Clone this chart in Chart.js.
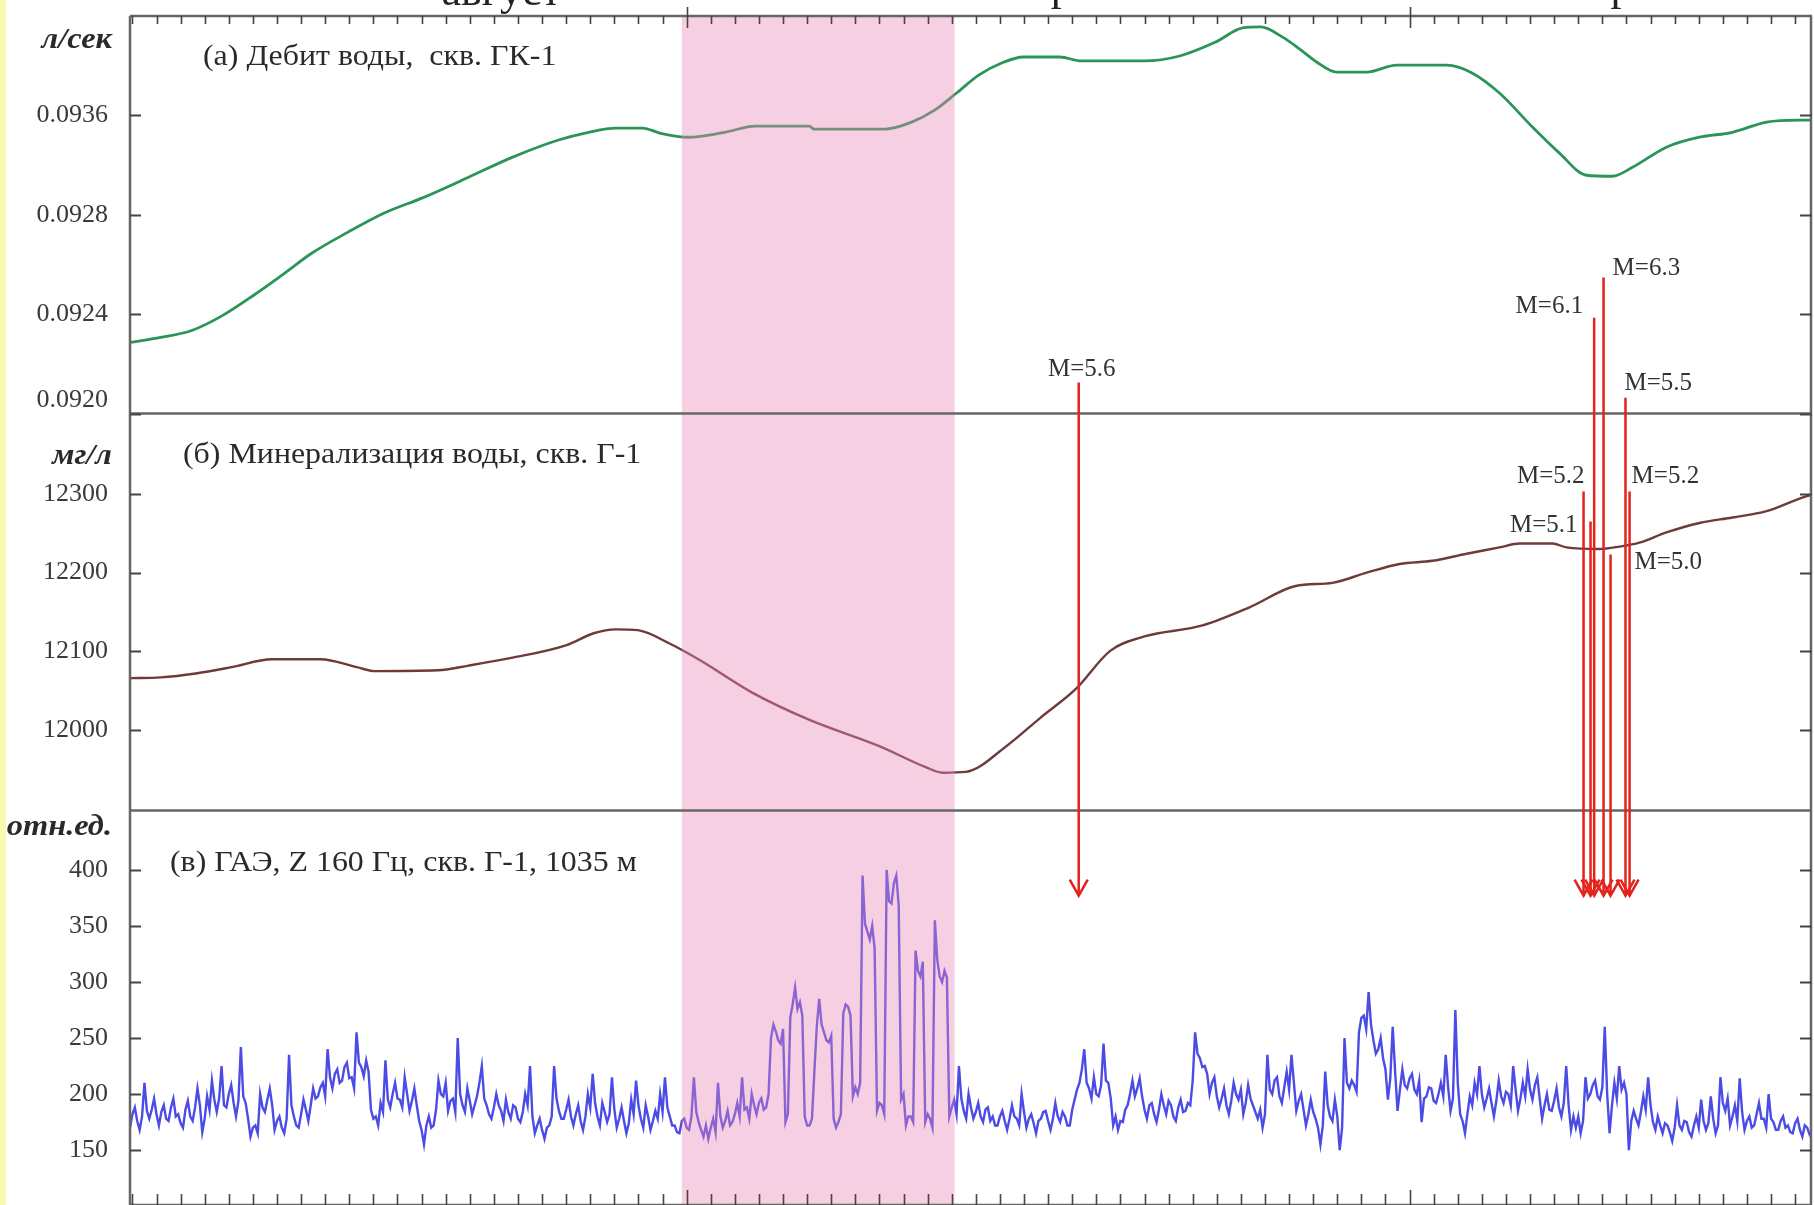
<!DOCTYPE html>
<html><head><meta charset="utf-8">
<script src="https://cdn.jsdelivr.net/npm/chart.js@4.4.1/dist/chart.umd.min.js"></script>
<style>html,body{margin:0;padding:0;background:#fff;overflow:hidden}canvas{display:block}</style>
</head><body>
<canvas id="c" width="1814" height="1205"></canvas>
<script>
// ---------------- data (x in days from 1 September) ----------------
const flowDays = [-23.1,-21.83,-20.54,-19.25,-17.97,-16.64,-15.56,-14.07,-12.57,-10.91,-9.05,-7.22,-5.35,-4.07,-2.95,-1.83,-1.08,0.08,1.58,2.86,5.10,5.27,8.26,9.34,10.29,11.20,12.12,13.07,13.98,15.48,16.39,19.00,20.46,21.95,23.07,23.82,24.73,25.44,26.14,26.97,28.22,29.46,31.54,32.61,33.73,35.10,36.22,37.34,38.42,39.25,40.66,42.03,43.40,44.81,46.18,46.7];
const flowValues = [0.092286,0.092306,0.092334,0.092395,0.092476,0.092568,0.092645,0.092729,0.092806,0.092870,0.092951,0.093032,0.093100,0.093132,0.093149,0.093149,0.093128,0.093112,0.093132,0.093157,0.093157,0.093145,0.093145,0.093173,0.093221,0.093290,0.093362,0.093411,0.093435,0.093435,0.093419,0.093419,0.093439,0.093495,0.093552,0.093556,0.093515,0.093467,0.093415,0.093374,0.093374,0.093402,0.093402,0.093370,0.093290,0.093153,0.093048,0.092959,0.092955,0.092991,0.093072,0.093112,0.093132,0.093173,0.093181,0.093181];

const minDays = [-23.1,-21.83,-20.37,-18.88,-17.22,-15.19,-13.69,-12.95,-10.33,-9.05,-7.22,-4.98,-3.86,-2.95,-2.03,-0.71,0.54,2.70,5.10,7.97,9.92,10.62,11.58,13.28,14.69,16.14,17.59,19.00,21.41,23.36,25.27,26.80,28.22,29.59,30.95,32.37,33.73,34.56,35.93,36.51,37.88,38.71,39.54,40.66,42.03,43.40,44.81,46.18,46.7];
const minValues = [12066,12067,12072,12080,12090,12090,12080,12075,12076,12082,12092,12108,12123,12128,12127,12110,12089,12048,12013,11980,11953,11946,11947,11980,12016,12052,12101,12119,12133,12156,12183,12187,12200,12211,12215,12224,12232,12237,12237,12232,12230,12233,12238,12251,12263,12270,12278,12294,12299];

const gaeStartDay = -23.1;
const gaeStepDays = 0.1;
const gaeValues = [
170,182,188,176,168,180,210,185,178,186,196,182,172,184,190,178,176,188,196,180,
182,174,170,186,194,180,176,188,205,190,166,178,198,186,212,195,184,196,225,190,
188,200,208,192,180,194,242,198,192,178,162,170,172,165,200,188,184,195,205,190,
168,176,180,170,165,178,235,190,180,172,170,182,195,186,176,190,205,196,198,206,
210,198,240,215,205,218,222,210,212,224,228,214,215,205,255,228,224,216,230,220,
186,178,180,172,192,184,230,195,188,200,210,196,195,188,215,200,185,194,205,190,
176,168,155,172,180,170,172,186,212,200,198,210,185,194,196,184,250,200,190,184,
205,194,182,190,198,210,225,196,190,182,178,188,200,190,185,176,195,184,178,190,
188,178,175,184,200,190,225,180,165,172,178,168,160,170,172,180,225,196,185,178,
178,186,195,180,172,182,190,176,168,180,200,188,218,192,180,172,192,184,175,182,
215,186,170,178,188,176,165,174,195,182,212,190,178,170,190,180,168,176,185,178,
200,184,215,188,180,172,172,166,165,176,178,170,168,180,215,184,175,168,162,172,
160,170,178,166,210,180,170,176,185,172,175,182,192,180,215,186,188,178,200,190,
182,192,196,186,188,200,250,262,256,248,245,258,175,182,268,280,295,276,282,270,
180,172,172,178,220,260,285,262,255,248,246,252,178,170,175,182,272,280,278,270,
198,206,200,210,395,352,345,338,350,330,185,192,190,182,400,372,370,388,395,368,
195,200,172,180,180,175,328,310,305,318,175,182,178,170,355,320,305,300,310,304,
180,188,195,182,225,196,185,178,200,188,178,184,192,180,175,186,188,176,180,172,
172,180,185,176,168,178,190,180,178,172,200,184,170,178,182,174,165,176,178,184,
185,176,168,178,192,180,175,184,180,172,172,186,195,204,210,222,240,210,205,196,
215,200,198,208,245,212,210,196,172,180,168,176,175,186,190,200,212,198,205,214,
198,186,178,190,192,182,175,186,200,190,182,194,190,180,176,188,195,184,185,192,
190,212,255,236,232,224,225,218,200,210,215,198,188,196,205,190,182,194,210,200,
195,204,182,192,208,196,190,184,178,186,170,182,235,204,200,212,215,198,192,206,
220,204,235,210,185,194,200,186,172,182,195,184,178,170,155,172,220,190,180,176,
195,180,150,170,250,210,205,212,208,202,255,268,270,258,291,262,248,236,240,250,
232,222,195,214,260,220,185,204,222,208,205,214,218,204,200,212,175,196,198,206,
205,194,192,200,210,198,235,206,185,196,275,210,182,176,165,182,198,190,210,200,
225,200,188,196,205,192,180,194,212,198,192,202,200,190,225,204,185,196,210,198,
222,204,195,208,215,196,178,190,200,186,185,194,205,188,180,192,225,190,168,180,
170,180,165,176,215,196,200,208,212,198,195,206,260,200,165,190,210,196,225,204,
210,200,150,176,185,178,172,184,198,186,215,190,175,168,180,172,165,174,172,166,
158,170,190,172,168,176,175,166,162,172,180,170,195,176,168,174,198,178,165,172,
215,192,185,196,172,180,190,176,214,184,168,176,180,170,172,182,192,178,178,170,
200,178,175,168,168,176,180,170,172,166,165,174,178,168,162,172,170,164,160,166];

// earthquakes
const quakeDays = [16.27, 37.22, 37.51, 37.66, 38.05, 38.34, 38.96, 39.13];
const quakeMags = ['5.6','5.2','5.1','6.1','6.3','5.0','5.5','5.2'];
const quakeTopAxis = ['ya','yb','yb','ya','ya','yb','ya','yb'];
const quakeTopValues = [0.092125, 12303, 12265, 0.092385, 0.092547, 12223, 0.092063, 12303];
const quakeTipValue = 377; // on the acoustic-emission axis

const monthStartDays = [0, 30];
const monthNames = ['август', 'сентябрь', 'октябрь'];
const monthLabelDays = [-7.7, 13.4, 37.05];
const bandDays = [-0.2, 11.12];

const flowTicks = [0.0920, 0.0924, 0.0928, 0.0932];
const flowTickLabels = [['0.0920', ''], '0.0924', '0.0928', '0.0936'];
const minTicks = [12000, 12100, 12200, 12300];
const gaeTicks = [150, 200, 250, 300, 350, 400];

const panelTitles = ['(а) Дебит воды,  скв. ГК-1', '(б) Минерализация воды, скв. Г-1', '(в) ГАЭ, Z 160 Гц, скв. Г-1, 1035 м'];
const unitLabels = ['л/сек', 'мг/л', 'отн.ед.'];

// ---------------- layout / style ----------------
const SERIF = '"Liberation Serif", "Times New Roman", serif';
const quakeLabelPlace = [
  {align:'center', dx: 3, dy:-13},
  {align:'right', dx: 1, dy:-15},
  {align:'right', dx:-13, dy: 4},
  {align:'right', dx:-11, dy:-11},
  {align:'left', dx: 9, dy:-9},
  {align:'left', dx: 24, dy: 8},
  {align:'left', dx:-1, dy:-14},
  {align:'left', dx: 2, dy:-15}
];
const titlePlace = [{dx:73, dy:41}, {dx:53, dy:42}, {dx:40, dy:52.5}];
const unitPlace = [{dy:24}, {dy:42.5}, {dy:16.5}];
const monthBaselines = [5, 0, 0];

function fixAxis(s) { s.width = 130; s.paddingTop = 0; s.paddingBottom = 0; }
function yAxis(min, max, ticks, labels, weight, stackWeight) {
  return {
    type: 'linear', position: 'left', stack: 'panels', stackWeight: stackWeight, weight: weight,
    min: min, max: max,
    grid: {display: false, drawTicks: false}, border: {display: false},
    afterBuildTicks: s => { s.ticks = ticks.map(v => ({value: v})); },
    afterFit: fixAxis,
    ticks: {
      padding: 22, color: '#3a3a3a', autoSkip: false,
      font: {family: SERIF, size: 26, lineHeight: 1.0},
      callback: (v, i) => labels[i]
    }
  };
}

function stretchedText(ctx, text, x, y, sx) {
  ctx.save();
  ctx.translate(x, y);
  ctx.scale(sx, 1);
  ctx.fillText(text, 0, 0);
  ctx.restore();
}

const decor = {
  id: 'decor',
  beforeDraw(chart) {
    const ctx = chart.ctx;
    ctx.save();
    ctx.fillStyle = '#ffffff';
    ctx.fillRect(0, 0, chart.width, chart.height);
    ctx.fillStyle = '#fbf8b4';
    ctx.fillRect(0, 0, 6, chart.height);
    ctx.restore();
  },
  afterDatasetsDraw(chart) {
    const {ctx, chartArea: a, scales} = chart;
    const x = scales.x, ya = scales.ya, yb = scales.yb, yc = scales.yc;
    ctx.save();
    // highlighted interval
    const bx0 = x.getPixelForValue(bandDays[0]), bx1 = x.getPixelForValue(bandDays[1]);
    ctx.fillStyle = 'rgba(232,137,182,0.4)';
    ctx.fillRect(bx0, a.top, bx1 - bx0, a.bottom - a.top);

    // frame and panel separators
    ctx.strokeStyle = '#666';
    ctx.lineWidth = 2.5;
    ctx.beginPath();
    ctx.moveTo(a.left, a.top); ctx.lineTo(a.right, a.top);
    ctx.moveTo(a.left, a.top); ctx.lineTo(a.left, a.bottom);
    ctx.moveTo(a.right - 1, a.top); ctx.lineTo(a.right - 1, a.bottom);
    ctx.moveTo(a.left, a.bottom); ctx.lineTo(a.right, a.bottom);
    ctx.moveTo(a.left, ya.bottom); ctx.lineTo(a.right, ya.bottom);
    ctx.moveTo(a.left, yb.bottom); ctx.lineTo(a.right, yb.bottom);
    ctx.stroke();

    // y tick marks (inward, both sides)
    ctx.strokeStyle = '#444';
    ctx.lineWidth = 2;
    ctx.beginPath();
    [ya, yb, yc].forEach(s => {
      s.ticks.forEach(t => {
        const py = Math.round(s.getPixelForValue(t.value)) + 0.5;
        ctx.moveTo(a.left, py); ctx.lineTo(a.left + 11, py);
        ctx.moveTo(a.right - 12, py); ctx.lineTo(a.right, py);
      });
    });
    ctx.stroke();

    // x tick marks: one per day, longer at month starts
    ctx.lineWidth = 1.6;
    ctx.strokeStyle = '#444';
    ctx.beginPath();
    for (let d = Math.ceil(x.min); d <= Math.floor(x.max); d++) {
      const px = Math.round(x.getPixelForValue(d)) + 0.5;
      const major = monthStartDays.includes(d);
      if (major) {
        ctx.moveTo(px, a.top - 9); ctx.lineTo(px, a.top + 12);
        ctx.moveTo(px, a.bottom); ctx.lineTo(px, a.bottom - 15);
      } else {
        ctx.moveTo(px, a.top); ctx.lineTo(px, a.top + 8);
        ctx.moveTo(px, a.bottom); ctx.lineTo(px, a.bottom - 11);
      }
    }
    ctx.stroke();

    // month names (mostly cut off at the top)
    ctx.fillStyle = '#222';
    ctx.font = '44px ' + SERIF;
    ctx.textAlign = 'center';
    ctx.textBaseline = 'alphabetic';
    monthNames.forEach((m, i) => {
      ctx.fillText(m, x.getPixelForValue(monthLabelDays[i]), monthBaselines[i]);
    });

    // earthquake arrows
    ctx.strokeStyle = '#e3231c';
    ctx.lineWidth = 2.5;
    const tipY = yc.getPixelForValue(quakeTipValue);
    quakeDays.forEach((d, i) => {
      const px = x.getPixelForValue(d);
      const top = scales[quakeTopAxis[i]].getPixelForValue(quakeTopValues[i]);
      ctx.beginPath();
      ctx.moveTo(px, top); ctx.lineTo(px, tipY);
      ctx.moveTo(px - 9, tipY - 16); ctx.lineTo(px, tipY); ctx.lineTo(px + 9, tipY - 16);
      ctx.stroke();
    });
    ctx.fillStyle = '#333';
    ctx.font = '25px ' + SERIF;
    ctx.textBaseline = 'middle';
    quakeDays.forEach((d, i) => {
      const px = x.getPixelForValue(d);
      const top = scales[quakeTopAxis[i]].getPixelForValue(quakeTopValues[i]);
      const p = quakeLabelPlace[i];
      ctx.textAlign = p.align;
      ctx.fillText('M=' + quakeMags[i], px + p.dx, top + p.dy);
    });

    // panel titles and units
    const panels = [ya, yb, yc];
    ctx.fillStyle = '#2a2a2a';
    ctx.font = '29px ' + SERIF;
    ctx.textAlign = 'left';
    panels.forEach((s, i) => {
      stretchedText(ctx, panelTitles[i], a.left + titlePlace[i].dx, s.top + titlePlace[i].dy, 1.1);
    });
    ctx.font = 'italic bold 30px ' + SERIF;
    ctx.textAlign = 'right';
    panels.forEach((s, i) => {
      stretchedText(ctx, unitLabels[i], a.left - 18, s.top + unitPlace[i].dy, 1.08);
    });
    ctx.restore();
  }
};

new Chart(document.getElementById('c'), {
  type: 'line',
  data: {
    datasets: [
      {
        data: flowDays.map((d, i) => ({x: d, y: flowValues[i]})),
        yAxisID: 'ya', borderColor: '#2b9457', borderWidth: 2.8,
        pointRadius: 0, cubicInterpolationMode: 'monotone', fill: false
      },
      {
        data: minDays.map((d, i) => ({x: d, y: minValues[i]})),
        yAxisID: 'yb', borderColor: '#6e3a3a', borderWidth: 2.4,
        pointRadius: 0, cubicInterpolationMode: 'monotone', fill: false
      },
      {
        data: gaeValues.map((v, i) => ({x: gaeStartDay + gaeStepDays * i, y: v})),
        yAxisID: 'yc', borderColor: '#4b4be6', borderWidth: 2.4,
        pointRadius: 0, tension: 0, fill: false
      }
    ]
  },
  options: {
    responsive: false, animation: false, devicePixelRatio: 1, events: [],
    layout: {padding: {left: 0, right: 2, top: 16, bottom: 0}},
    plugins: {legend: {display: false}, tooltip: {enabled: false}},
    scales: {
      x: {type: 'linear', min: -23.1, max: 46.7, display: false},
      ya: yAxis(0.0920, 0.0936, flowTicks, flowTickLabels, 3, 397.5),
      yb: yAxis(11898, 12402, minTicks, minTicks.map(String), 2, 397),
      yc: yAxis(101, 453, gaeTicks, gaeTicks.map(String), 1, 394.5)
    }
  },
  plugins: [decor]
});
</script>
</body></html>
